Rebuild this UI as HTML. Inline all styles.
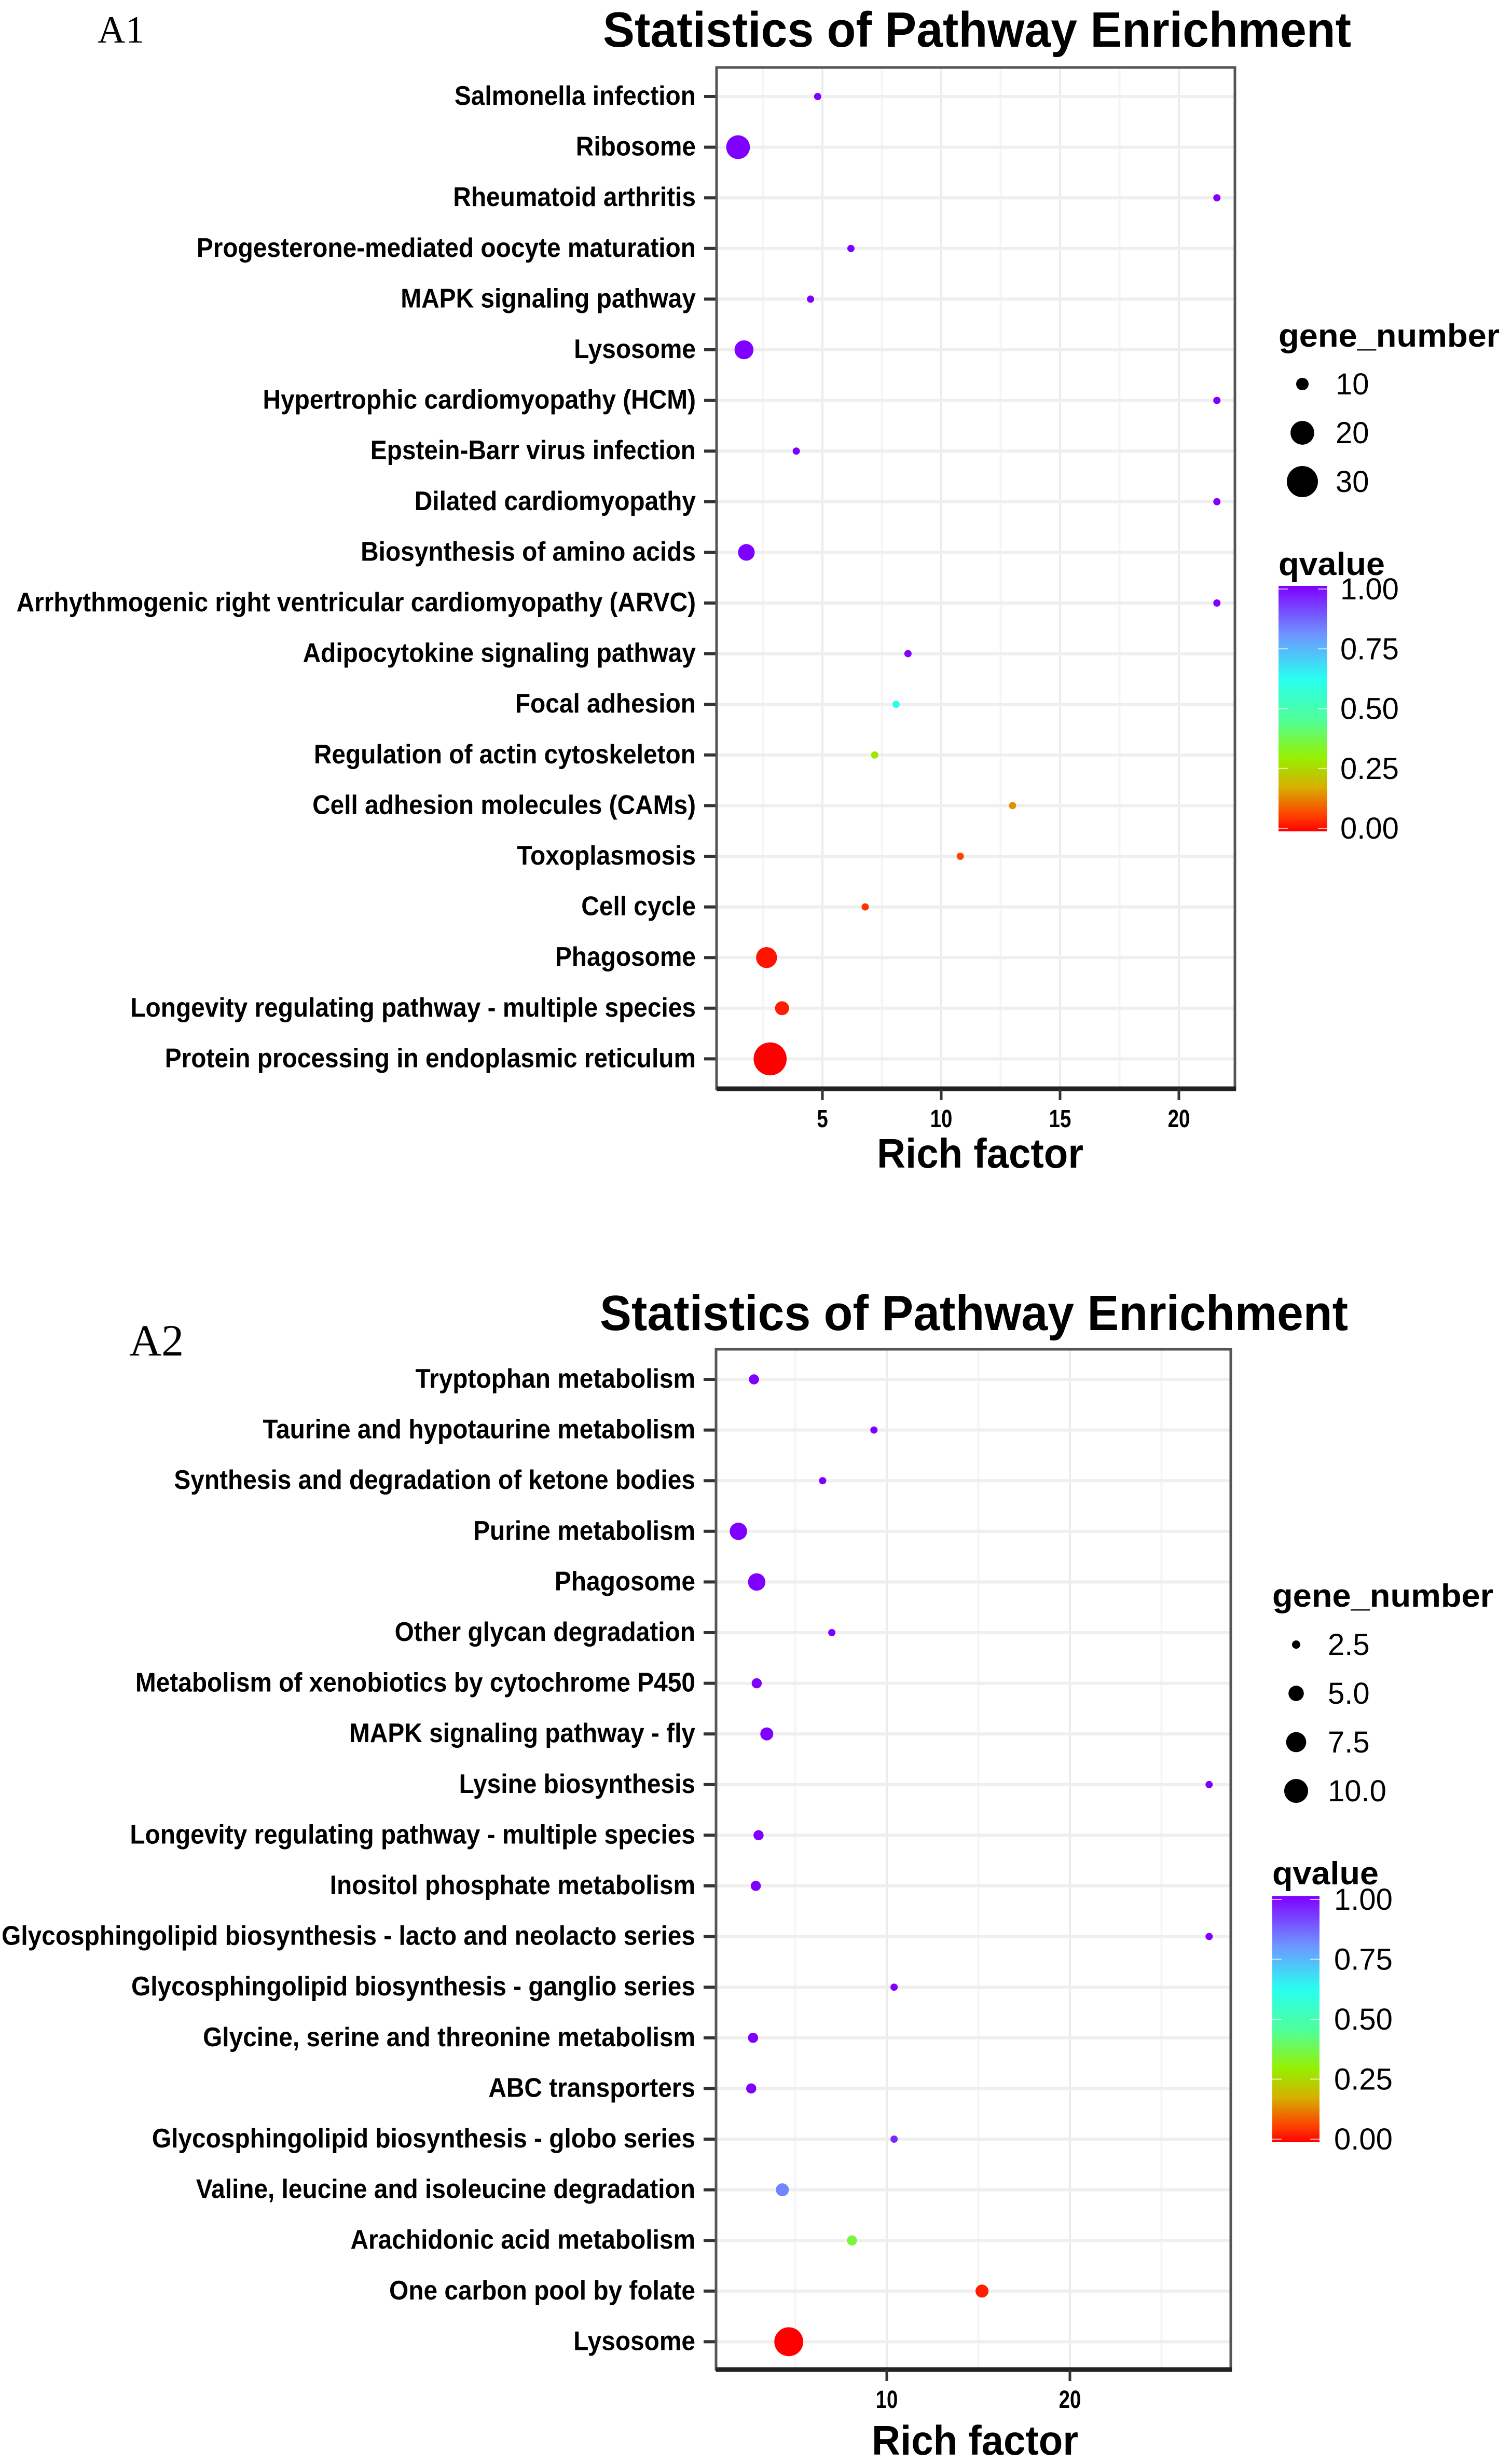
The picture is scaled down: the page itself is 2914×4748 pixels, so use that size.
<!DOCTYPE html>
<html><head><meta charset="utf-8"><style>
html,body{margin:0;padding:0;background:#fff;}
svg{display:block;font-family:"Liberation Sans",sans-serif;}
</style></head><body>
<svg id="s" width="2914" height="4748" viewBox="0 0 2914 4748"></svg>
<script>
// ---- Panel A1 data ----
const a1Categories = ["Salmonella infection","Ribosome","Rheumatoid arthritis","Progesterone-mediated oocyte maturation","MAPK signaling pathway","Lysosome","Hypertrophic cardiomyopathy (HCM)","Epstein-Barr virus infection","Dilated cardiomyopathy","Biosynthesis of amino acids","Arrhythmogenic right ventricular cardiomyopathy (ARVC)","Adipocytokine signaling pathway","Focal adhesion","Regulation of actin cytoskeleton","Cell adhesion molecules (CAMs)","Toxoplasmosis","Cell cycle","Phagosome","Longevity regulating pathway - multiple species","Protein processing in endoplasmic reticulum"];
const a1Rich = [4.8,1.45,21.6,6.2,4.5,1.7,21.6,3.9,21.6,1.8,21.6,8.6,8.1,7.2,13.0,10.8,6.8,2.65,3.3,2.8];
const a1Genes = [3,20,1,2,3,15,1,2,1,13,1,3,3,3,2,3,5,17,11,33];
const a1Q = [1,1,1,1,1,1,1,1,1,1,1,1,0.6,0.28,0.15,0.07,0.05,0.02,0.03,0.0];
const a1XTicks = [5,10,15,20];
const a1SizeLegend = [10,20,30];
// ---- Panel A2 data ----
const a2Categories = ["Tryptophan metabolism","Taurine and hypotaurine metabolism","Synthesis and degradation of ketone bodies","Purine metabolism","Phagosome","Other glycan degradation","Metabolism of xenobiotics by cytochrome P450","MAPK signaling pathway - fly","Lysine biosynthesis","Longevity regulating pathway - multiple species","Inositol phosphate metabolism","Glycosphingolipid biosynthesis - lacto and neolacto series","Glycosphingolipid biosynthesis - ganglio series","Glycine, serine and threonine metabolism","ABC transporters","Glycosphingolipid biosynthesis - globo series","Valine, leucine and isoleucine degradation","Arachidonic acid metabolism","One carbon pool by folate","Lysosome"];
const a2Rich = [2.75,9.3,6.5,1.9,2.9,7.0,2.9,3.45,27.6,3.0,2.85,27.6,10.4,2.7,2.6,10.4,4.3,8.1,15.2,4.65];
const a2Genes = [3,1,1,6,6,2,3,4,1,3,3,1,2,3,3,2,4,3,4,14];
const a2Q = [1,1,1,1,1,1,1,1,1,1,1,1,1,1,1,0.95,0.82,0.36,0.03,0.0];
const a2XTicks = [10,20];
const a2SizeLegend = [2.5,5.0,7.5,10.0];
const qTicks = [0,0.25,0.5,0.75,1.0];

const NS="http://www.w3.org/2000/svg";
const svg=document.getElementById('s');
function el(tag,attrs,parent,text){const e=document.createElementNS(NS,tag);for(const k in attrs)e.setAttribute(k,attrs[k]);if(text!==undefined)e.textContent=text;(parent||svg).appendChild(e);return e;}
const stops=[[0,[255,0,0]],[0.06,[255,60,0]],[0.18,[215,175,0]],[0.3,[150,240,0]],[0.45,[80,255,150]],[0.62,[40,255,240]],[0.8,[110,150,255]],[1,[128,0,255]]];
function qColor(q){for(let i=1;i<stops.length;i++){if(q<=stops[i][0]){const a=stops[i-1],b=stops[i];const t=(q-a[0])/(b[0]-a[0]);const c=a[1].map((v,j)=>Math.round(v+(b[1][j]-v)*t));return `rgb(${c[0]},${c[1]},${c[2]})`;}}return 'rgb(128,0,255)';}

function panel(cfg){
  const g=el('g',{});
  
  
  const xs=v=>cfg.x0+v*cfg.k;
  const ys=i=>cfg.rowTop+i*cfg.rowStep;
  const rr=n=>Math.sqrt(Math.max(49,cfg.sa+cfg.sb*n));
  const t=el('text',{x:cfg.titleX,y:cfg.titleY,'font-size':96,'font-weight':'bold',textLength:cfg.titleW,lengthAdjust:'spacingAndGlyphs'},g,'Statistics of Pathway Enrichment');
  
  const pl=el('text',{x:cfg.lblX,y:cfg.lblY,'font-size':cfg.lblSize,'font-family':'Liberation Serif, serif'},g,cfg.label);
  
  const bg=el('rect',{x:cfg.L,y:cfg.T,width:cfg.R-cfg.L,height:cfg.B-cfg.T,fill:'#fff'},g);
  
  const step=cfg.xTicks[1]-cfg.xTicks[0];
  for(let v=cfg.xTicks[0]-step*2;v<=cfg.xTicks[cfg.xTicks.length-1]+step*2;v+=step/2){const x=xs(v);if(x<=cfg.L||x>=cfg.R)continue;const gl=el('line',{x1:x,x2:x,y1:cfg.T,y2:cfg.B,stroke:(Math.abs(v/step-Math.round(v/step))<1e-6)?'#ececec':'#f5f5f5','stroke-width':4},g);}
  cfg.cats.forEach((c,i)=>{const y=ys(i);
    const gl=el('line',{x1:cfg.L,x2:cfg.R,y1:y,y2:y,stroke:'#efefef','stroke-width':6},g);
    const tk=el('line',{x1:cfg.L-24,x2:cfg.L,y1:y,y2:y,stroke:'#333','stroke-width':6},g);
    const tx=el('text',{transform:`translate(${cfg.L-40},${y+16}) scale(0.92,1)`,'font-size':52,'font-weight':'bold','text-anchor':'end'},g,c);
    
  });
  const br=el('rect',{x:cfg.L,y:cfg.T,width:cfg.R-cfg.L,height:cfg.B-cfg.T,fill:'none',stroke:'#555','stroke-width':5},g);
  
  const ax=el('line',{x1:cfg.L,x2:cfg.R+2,y1:cfg.B,y2:cfg.B,stroke:'#222','stroke-width':9},g);
  
  cfg.xTicks.forEach(v=>{const x=xs(v);
    const tk=el('line',{x1:x,x2:x,y1:cfg.B,y2:cfg.B+22,stroke:'#333','stroke-width':5},g);
    const tl=el('text',{transform:`translate(${x},${cfg.B+74}) scale(0.8,1)`,'font-size':48,'font-weight':'bold','text-anchor':'middle'},g,String(v));
  });
  const xt=el('text',{x:cfg.xTitleX-199,y:cfg.xTitleY,'font-size':80,'font-weight':'bold',textLength:398,lengthAdjust:'spacingAndGlyphs'},g,'Rich factor');
  
  cfg.cats.forEach((c,i)=>{
    const p=el('circle',{cx:xs(cfg.rich[i]),cy:ys(i),r:rr(cfg.genes[i]),fill:qColor(cfg.q[i])},g);
    
  });
  const st=el('text',{x:cfg.legX,y:cfg.legTitleY,'font-size':62,'font-weight':'bold',textLength:cfg.legTitleW,lengthAdjust:'spacingAndGlyphs'},g,'gene_number');
  
  cfg.sizeLeg.forEach((n,i)=>{const y=cfg.legY0+i*94;
    const d=el('circle',{cx:cfg.legDotX,cy:y,r:rr(n),fill:'#000'},g);
    const l=el('text',{x:cfg.legLblX,y:y+20,'font-size':58},g,n%1===0&&cfg.sizeLeg.some(v=>v%1!==0)?n.toFixed(1):String(n));
  });
  const qt=el('text',{x:cfg.legX,y:cfg.qTitleY,'font-size':62,'font-weight':'bold',textLength:205,lengthAdjust:'spacingAndGlyphs'},g,'qvalue');
  
  const gid='grad'+cfg.label;
  const defs=el('defs',{},g);const lg=el('linearGradient',{id:gid,x1:0,y1:1,x2:0,y2:0},defs);
  stops.forEach(s=>el('stop',{offset:s[0],'stop-color':qColor(s[0])},lg));
  const cb=el('rect',{x:cfg.legX,y:cfg.barT,width:cfg.barW,height:cfg.barB-cfg.barT,fill:`url(#${gid})`},g);
  
  qTicks.forEach(v=>{const y=cfg.barB-6-v*(cfg.barB-cfg.barT-12);
    el('line',{x1:cfg.legX,x2:cfg.legX+18,y1:y,y2:y,stroke:'#fff','stroke-width':2,opacity:0.7},g);
    el('line',{x1:cfg.legX+cfg.barW-18,x2:cfg.legX+cfg.barW,y1:y,y2:y,stroke:'#fff','stroke-width':2,opacity:0.7},g);
    const l=el('text',{x:cfg.qLblX,y:y+20,'font-size':58},g,v.toFixed(2));
  });
}
panel({name:'chart-a1',label:'A1',lblX:188,lblY:82,lblSize:74,cats:a1Categories,rich:a1Rich,genes:a1Genes,q:a1Q,xTicks:a1XTicks,sizeLeg:a1SizeLegend,
  L:1381,R:2380,T:130,B:2098,x0:1356,k:45.8,rowTop:186,rowStep:97.6,sa:-234,sb:37.8,
  titleX:1162,titleY:90,titleW:1442,xTitleX:1889,xTitleY:2250,
  legX:2464,legTitleY:668,legTitleW:426,legY0:740,legDotX:2510,legLblX:2574,qTitleY:1108,barT:1129,barB:1602,barW:94,qLblX:2583});
panel({name:'chart-a2',label:'A2',lblX:249,lblY:2612,lblSize:86,cats:a2Categories,rich:a2Rich,genes:a2Genes,q:a2Q,xTicks:a2XTicks,sizeLeg:a2SizeLegend,
  L:1380,R:2372,T:2600,B:4566,x0:1356,k:35.3,rowTop:2658,rowStep:97.6,sa:-91,sb:62,
  titleX:1156,titleY:2563,titleW:1442,xTitleX:1879,xTitleY:4730,
  legX:2452,legTitleY:3096,legTitleW:426,legY0:3169,legDotX:2498,legLblX:2559,qTitleY:3631,barT:3654,barB:4128,barW:91,qLblX:2571});
</script>
</body></html>
